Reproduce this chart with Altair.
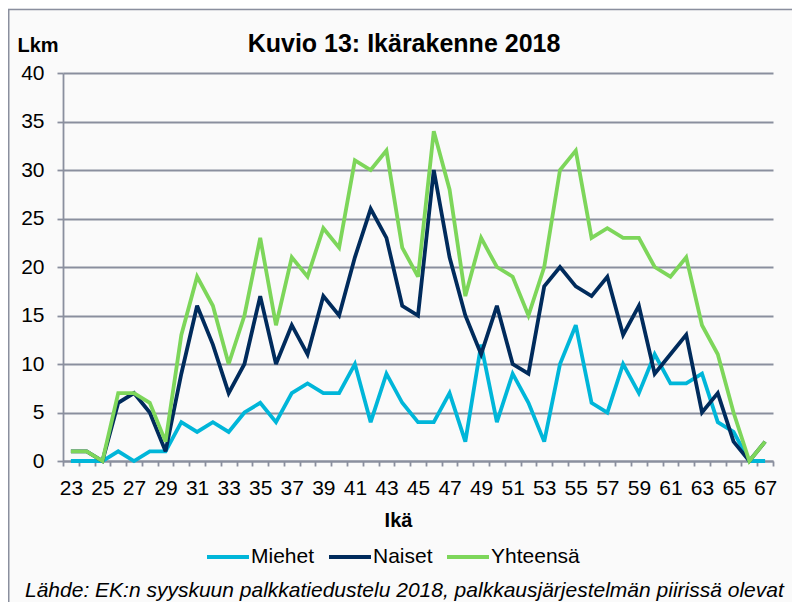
import altair as alt
import pandas as pd

# ---- data ----
ages = list(range(23, 68))
miehet = [0, 0, 0, 1, 0, 1, 1, 4, 3, 4, 3, 5, 6, 4, 7, 8, 7, 7, 10, 4, 9, 6, 4,
          4, 7, 2, 12, 4, 9, 6, 2, 10, 14, 6, 5, 10, 7, 11, 8, 8, 9, 4, 3, 0, 0]
naiset = [1, 1, 0, 6, 7, 5, 1, 9, 16, 12, 7, 10, 17, 10, 14, 11, 17, 15, 21, 26, 23, 16, 15,
          30, 21, 15, 11, 16, 10, 9, 18, 20, 18, 17, 19, 13, 16, 9, 11, 13, 5, 7, 2, 0, 2]
yhteensa = [1, 1, 0, 7, 7, 6, 2, 13, 19, 16, 10, 15, 23, 14, 21, 19, 24, 22, 31, 30, 32, 22, 19,
            34, 28, 17, 23, 20, 19, 15, 20, 30, 32, 23, 24, 23, 23, 20, 19, 21, 14, 11, 5, 0, 2]
series = ["Miehet", "Naiset", "Yhteensä"]
colors = ["#00b6d9", "#002b5c", "#7dd65a"]
y_ticks = [0, 5, 10, 15, 20, 25, 30, 35, 40]

title_text = "Kuvio 13: Ikärakenne 2018"
source_text = "Lähde: EK:n syyskuun palkkatiedustelu 2018, palkkausjärjestelmän piirissä olevat"

FONT = "Liberation Sans"
GRID = "#8a8f9e"

rows = []
for name, vals in zip(series, [miehet, naiset, yhteensa]):
    for a, v in zip(ages, vals):
        rows.append({"Ikä": a, "Lkm": v, "Sarja": name})
df = pd.DataFrame(rows)

lines = alt.Chart(df).mark_line(strokeWidth=3.8, strokeMiterLimit=3).encode(
    x=alt.X(
        "Ikä:O",
        bandPosition=0.5,
        scale=alt.Scale(type="band", paddingInner=0, paddingOuter=0),
        axis=alt.Axis(
            title="Ikä",
            labelExpr="datum.value % 2 == 1 ? datum.label : ''",
            tickBand="extent",
            labelAngle=0,
            grid=False,
            tickSize=5,
            labelPadding=11,
            titleX=335,
            titleY=65,
            titleAlign="center",
            titleBaseline="alphabetic",
        ),
    ),
    y=alt.Y(
        "Lkm:Q",
        scale=alt.Scale(domain=[0, 40], nice=False),
        axis=alt.Axis(
            values=y_ticks,
            title="Lkm",
            grid=True,
            gridColor=GRID,
            gridWidth=1.8,
            tickSize=6,
            labelPadding=13,
            titleAngle=0,
            titleX=-46,
            titleY=-22,
            titleAlign="left",
            titleBaseline="alphabetic",
        ),
    ),
    color=alt.Color(
        "Sarja:N",
        scale=alt.Scale(domain=series, range=colors),
        legend=alt.Legend(
            title=None,
            orient="none",
            legendX=142,
            legendY=461,
            direction="horizontal",
            symbolType="stroke",
            symbolSize=1764,
            symbolStrokeWidth=4,
            labelFontSize=21,
            labelFont=FONT,
            labelColor="black",
            labelOffset=0,
            columnPadding=6,
            padding=0,
        ),
    ),
)

one = pd.DataFrame({"k": [0]})

border = alt.Chart(one).mark_rect(
    fill="transparent", stroke=GRID, strokeWidth=1.5
).encode(
    x=alt.value(-54.25), x2=alt.value(760), y=alt.value(-63.5), y2=alt.value(600)
)

title = alt.Chart(one).mark_text(
    align="center", baseline="alphabetic", fontWeight="bold", fontSize=25,
    font=FONT, color="black", text=title_text
).encode(x=alt.value(341), y=alt.value(-21.3))

source = alt.Chart(one).mark_text(
    align="left", baseline="alphabetic", fontStyle="italic", fontSize=21,
    font=FONT, color="black", text=source_text
).encode(x=alt.value(-38), y=alt.value(524))

chart = (
    alt.layer(border, lines, title, source)
    .properties(
        width=710,
        height=388,
        autosize=alt.AutoSizeParams(type="none"),
        padding={"left": 55, "top": 65, "right": 19, "bottom": 141},
        background="#fafafa",
    )
    .configure_view(strokeWidth=0)
    .configure_axis(
        labelFont=FONT,
        labelFontSize=21,
        labelColor="black",
        titleFont=FONT,
        titleFontSize=20,
        titleFontWeight="bold",
        titleColor="black",
        domainColor=GRID,
        domainWidth=1.8,
        tickColor=GRID,
        tickWidth=1.8,
    )
)

chart.save("out.html", embed_options={"renderer": "svg", "actions": False})
